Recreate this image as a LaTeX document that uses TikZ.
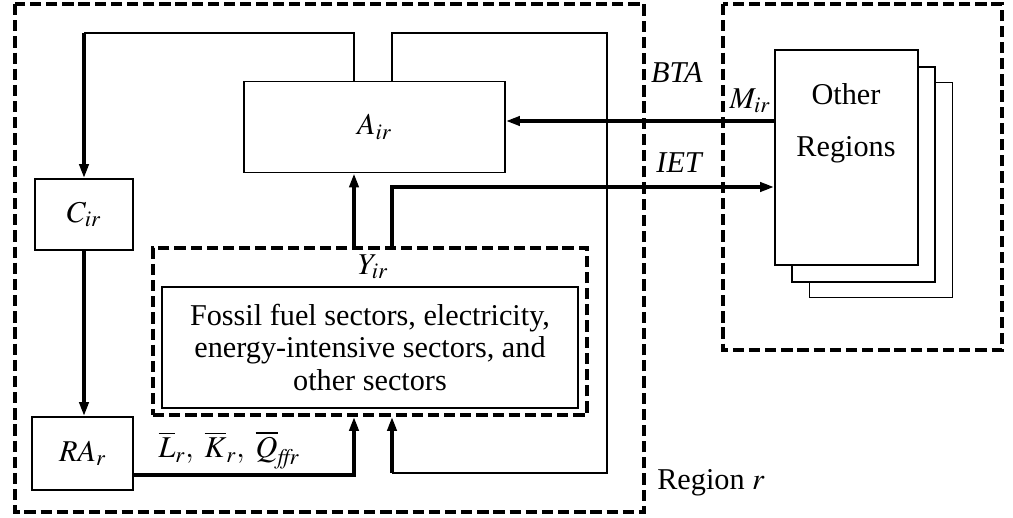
\documentclass[tikz,border=0pt]{standalone}
\usepackage{mathptmx}
\usepackage{fontspec}
\setmainfont{Liberation Serif}
\usetikzlibrary{arrows.meta, positioning, calc}

\tikzset{
  blk/.style={draw, line width=1.2pt, inner sep=0pt, font=\fontsize{21.5}{23}\selectfont},
  page/.style={draw, fill=white, line width=1.2pt, minimum width=3.575cm, minimum height=5.375cm},
  frame/.style={draw, line width=2.6pt, dash pattern=on 8pt off 3.5pt},
  flow/.style={line width=2.6pt, -{Triangle[length=10pt,width=6.5pt]}},
  link/.style={line width=1.2pt},
  lbl/.style={font=\fontsize{21.5}{23}\selectfont, inner sep=0pt},
}

\begin{document}
\begin{tikzpicture}[x=0.025cm, y=-0.025cm]
  \useasboundingbox (0,0) rectangle (1013,518);

  % Region frames
  \draw[frame] (15,4) rectangle (644,512);
  \draw[frame] (723,4) rectangle (1002,350);

  % Blocks of region r
  \node[blk, minimum width=6.525cm, minimum height=2.275cm] (A) at (374.5,127) {$A_{ir}$};
  \node[blk, minimum width=2.45cm, minimum height=1.775cm] (C) at (84,214.5) {$C_{ir}$};
  \node[blk, minimum width=2.525cm, minimum height=1.825cm] (RA) at (82.5,453.5) {$RA_{r}$};
  \node[frame, minimum width=10.85cm, minimum height=4.175cm] (Y) at (370,331.5) {};
  \node[lbl] (ylbl) at (373,267) {$Y_{ir}$};
  \node[blk, minimum width=10.4cm, minimum height=3.025cm, align=center] (sec) at (370,347.5)
    {Fossil fuel sectors, electricity,\\ energy-intensive sectors, and\\ other sectors};

  % Other regions
  \node[page] (oth3) at (881,190) {};
  \node[page] (oth2) at (863.5,174.5) {};
  \node[page] (oth) at (846.5,157.5) {};
  \node[lbl, align=center] (othlbl) at (846,123) {Other\\[14pt]Regions};

  % Labels
  \node[lbl] (bta) at (677,73) {\textit{BTA}};
  \node[lbl] (mir) at (750,101) {$M_{ir}$};
  \node[lbl] (iet) at (680,163) {\textit{IET}};
  \node[lbl] (fac) at (229,450) {$\overline{L}_r,\ \overline{K}_r,\ \overline{Q}_{\mathit{ffr}}$};
  \node[lbl] (reg) at (711,483) {Region $r$};

  % Helper points
  \coordinate (p1) at (354,0);
  \coordinate (p2) at (392,0);
  \coordinate (ctop) at (84,33);
  \coordinate (rtop) at (607,33);
  \coordinate (rbot) at (607,473);
  \coordinate (lk) at (0,475);
  \coordinate (ym) at (0,121);
  \coordinate (yi) at (0,187);

  % Consumption loop
  \draw[link] (A.north -| p1) |- (ctop);
  \draw[flow] (ctop) -- (C.north);
  \draw[flow] (C.south) -- (C.south |- RA.north);

  % Factor supply
  \draw[flow] (RA.east |- lk) -| (Y.south -| p1);

  % Intermediate loop
  \draw[link] (A.north -| p2) |- (rtop) -- (rbot) -- (rbot -| p2);
  \draw[flow] (rbot -| p2) -- (Y.south -| p2);

  % Output to Armington
  \draw[flow] (Y.north -| p1) -- (A.south -| p1);

  % Trade
  \draw[flow] (oth.west |- ym) -- (A.east |- ym);
  \draw[flow] (Y.north -| p2) |- (oth.west |- yi);
\end{tikzpicture}
\end{document}
